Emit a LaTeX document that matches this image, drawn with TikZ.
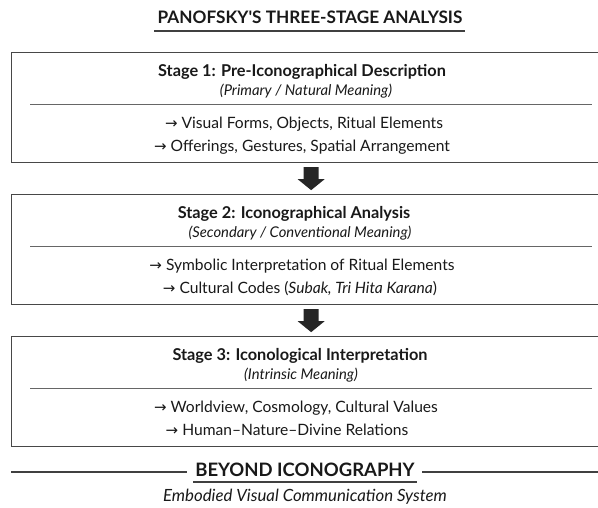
\documentclass[tikz,border=0pt]{standalone}
\usepackage{fontspec}
\setmainfont{Lato}
\newfontfamily\arrfont{DejaVu Sans}
\usetikzlibrary{calc}
\newcommand{\ra}{{\arrfont\fontsize{15}{16}\selectfont →}\ }
\begin{document}
\begin{tikzpicture}[x=1pt,y=-1pt,
  frame/.style={draw=black!72, line width=1.3pt, minimum width=599pt, minimum height=110pt, inner sep=0pt, anchor=north west},
  rule/.style={draw=black!60, line width=0.9pt},
  hrule/.style={draw=black!75, line width=1.1pt},
  txt/.style={anchor=base, inner sep=0pt, text=black!90},
  maintitle/.style={txt, font=\fontsize{17.2}{20}\selectfont\bfseries},
  stitle/.style={txt, font=\fontsize{16.3}{19}\selectfont\bfseries},
  ssub/.style={txt, font=\fontsize{14.8}{17}\selectfont\itshape},
  item/.style={txt, font=\fontsize{15.6}{18}\selectfont},
  arrowfill/.style={fill=black!85}]
\clip (0,0) rectangle (598,507);
\fill[white] (0,0) rectangle (598,507);

% title
\node[maintitle] (title) at (310,23) {PANOFSKY\textquotesingle S THREE-STAGE ANALYSIS};
\coordinate (tl) at (154,31);
\coordinate (tr) at (465,31);
\draw[hrule] (tl) -- (tr);

% boxes
\node[frame] (b1) at (11,52) {};
\node[frame] (b2) at (11,194) {};
\node[frame] (b3) at (11,336) {};
\foreach \b in {b1,b2,b3}{
  \draw[rule] ($(\b.north west)+(19,52)$) -- ($(\b.north east)+(-19,52)$);
}

% stage 1
\node[stitle] (s1t) at (302,76) {Stage 1: Pre-Iconographical Description};
\node[ssub] (s1s) at (306,95) {(Primary / Natural Meaning)};
\node[item] (s1a) at (304,128) {\ra Visual Forms, Objects, Ritual Elements};
\node[item] (s1b) at (302,151) {\ra Offerings, Gestures, Spatial Arrangement};

% stage 2
\node[stitle] (s2t) at (294,218) {Stage 2: Iconographical Analysis};
\node[ssub] (s2s) at (300,237) {(Secondary / Conventional Meaning)};
\node[item] (s2a) at (302,270) {\ra Symbolic Interpretation of Ritual Elements};
\node[item] (s2b) at (300,293) {\ra Cultural Codes (\textit{Subak, Tri Hita Karana})};

% stage 3
\node[stitle] (s3t) at (300,360) {Stage 3: Iconological Interpretation};
\node[ssub] (s3s) at (301,379) {(Intrinsic Meaning)};
\node[item] (s3a) at (296,412) {\ra Worldview, Cosmology, Cultural Values};
\node[item] (s3b) at (287,435) {\ra Human–Nature–Divine Relations};

% arrows between boxes
\coordinate (a1) at ($(b1.south)!0.5!(b2.north)$);
\coordinate (a2) at ($(b2.south)!0.5!(b3.north)$);
\foreach \a in {a1,a2}{
  \fill[arrowfill] ($(\a)+(-7.5,-11.5)$) -- ($(\a)+(7.5,-11.5)$) -- ($(\a)+(7.5,0.5)$)
    -- ($(\a)+(13.5,0.5)$) -- ($(\a)+(0,11.5)$) -- ($(\a)+(-13.5,0.5)$)
    -- ($(\a)+(-7.5,0.5)$) -- cycle;
}

% beyond
\node[txt, font=\fontsize{18.5}{21}\selectfont\bfseries] (beyond) at (305,476) {BEYOND ICONOGRAPHY};
\coordinate (bl) at (193,482);
\coordinate (br) at (417,482);
\draw[hrule] (bl) -- (br);
\coordinate (ll) at (11,472);
\coordinate (lr) at (187,472);
\coordinate (rl) at (422,472);
\coordinate (rr) at (598,472);
\draw[hrule] (ll) -- (lr);
\draw[hrule] (rl) -- (rr);
\node[txt, font=\fontsize{16.8}{19}\selectfont\itshape] (emb) at (305,501) {Embodied Visual Communication System};
\end{tikzpicture}
\end{document}
